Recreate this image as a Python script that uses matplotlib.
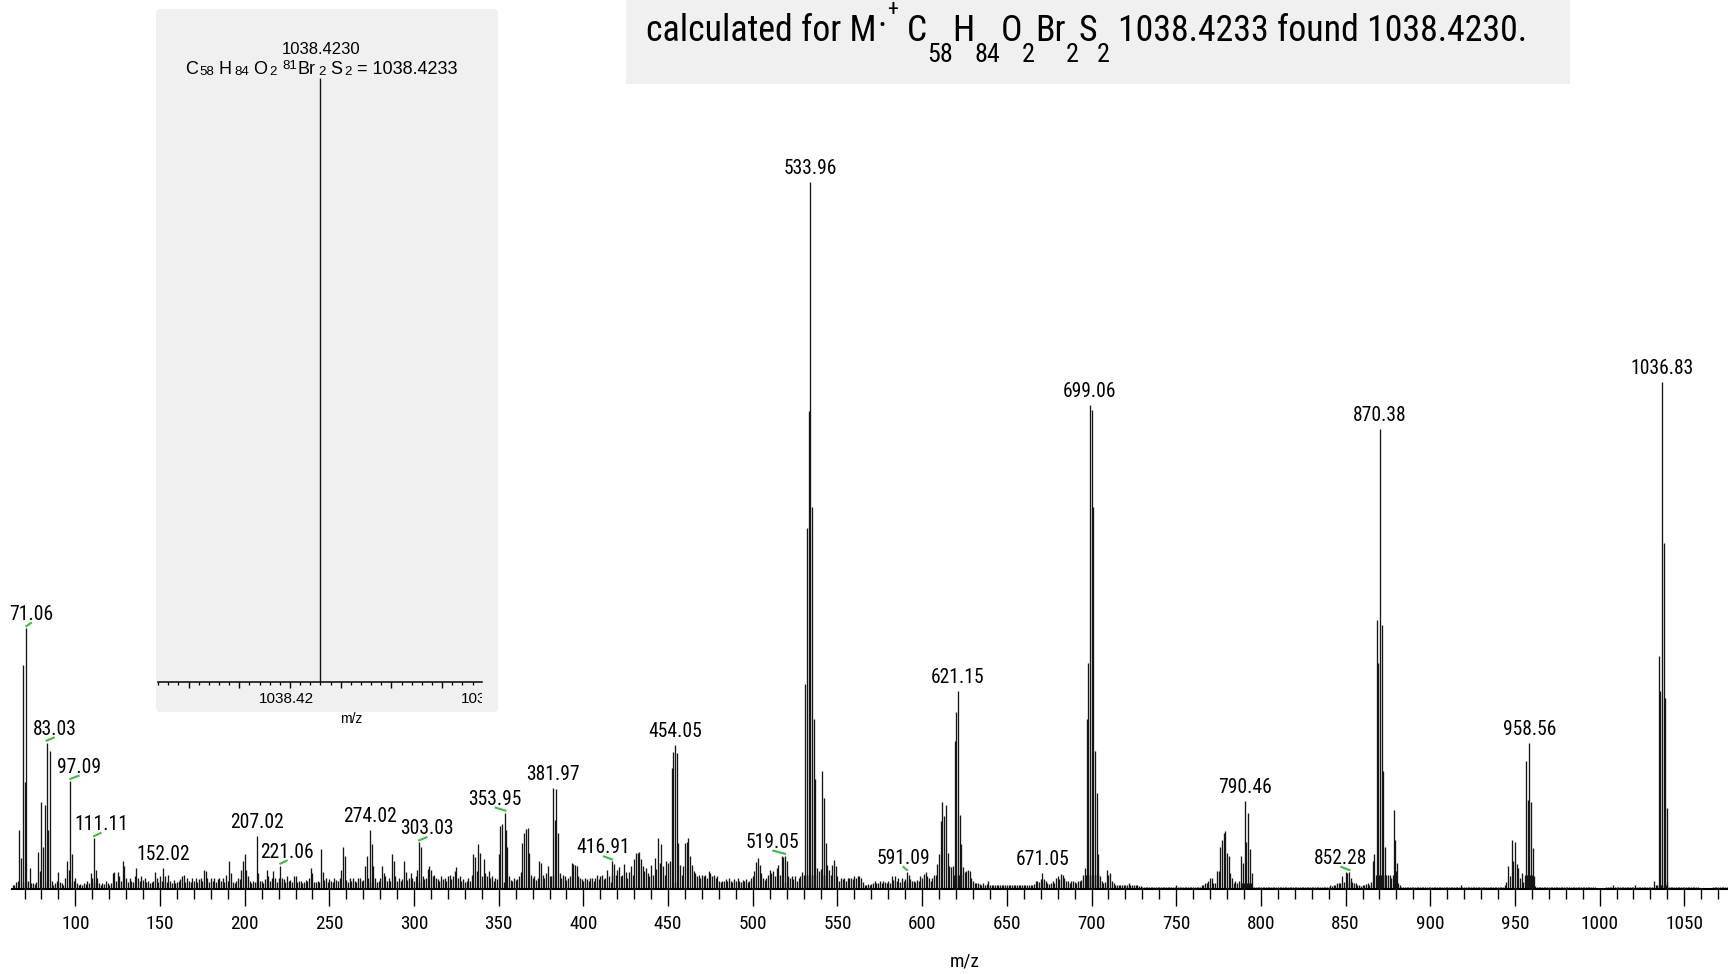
import matplotlib
matplotlib.use("Agg")
import matplotlib.pyplot as plt
import matplotlib.ticker as mticker
from matplotlib.patches import Rectangle, FancyBboxPatch
from matplotlib.lines import Line2D
from matplotlib.transforms import IdentityTransform, Bbox, TransformedBbox
from matplotlib.font_manager import FontProperties, fontManager
import numpy as np

# ---------------- data ----------------
noise_start = 63
noise_063_162 = [0.6, 0.5, 1.0, 1.2, 8.3, 4.4, 1.0, 15.2, 1.0, 1.1,
                 3.0, 0.8, 0.9, 0.7, 1.0, 5.3, 2.5, 12.3, 6.0, 11.9,
                 1.0, 8.4, 19.5, 1.1, 0.6, 0.8, 1.2, 2.4, 1.0, 0.8,
                 0.6, 1.5, 3.9, 2.7, 1.0, 4.9, 1.2, 1.6, 0.9, 0.6,
                 0.7, 0.6, 0.8, 0.7, 1.1, 0.9, 2.3, 1.6, 1.0, 2.7,
                 1.6, 0.9, 0.6, 0.8, 0.7, 1.2, 0.9, 0.6, 0.9, 2.2,
                 2.4, 1.1, 2.4, 1.8, 1.1, 3.9, 3.2, 1.6, 1.0, 1.6,
                 1.1, 1.0, 1.8, 3.0, 1.6, 1.1, 1.8, 1.3, 1.6, 1.0,
                 1.1, 0.8, 1.0, 1.2, 2.4, 1.6, 1.0, 1.8, 1.2, 1.0,
                 1.8, 1.0, 2.0, 1.2, 0.9, 1.3, 0.8, 1.0, 1.1, 1.4]
noise_163_262 = [1.8, 2.0, 1.0, 1.6, 1.2, 1.0, 1.5, 1.1, 1.6, 1.0,
                 1.4, 1.6, 1.2, 2.7, 2.5, 1.6, 1.0, 1.6, 1.2, 1.6,
                 1.0, 1.4, 1.6, 1.1, 1.5, 1.0, 2.0, 1.1, 3.9, 2.2,
                 1.0, 0.9, 1.2, 1.6, 1.4, 2.7, 3.9, 4.9, 2.7, 1.8,
                 1.2, 0.9, 1.1, 1.0, 1.0, 2.3, 1.2, 1.1, 0.9, 1.4,
                 2.7, 1.8, 1.2, 1.6, 2.5, 1.6, 1.0, 1.6, 1.0, 1.5,
                 1.4, 1.0, 1.8, 1.1, 1.3, 1.0, 1.8, 1.8, 1.0, 1.2,
                 1.1, 0.9, 1.0, 1.3, 1.1, 1.6, 3.0, 2.2, 1.0, 1.0,
                 1.2, 1.0, 5.7, 2.4, 1.3, 1.6, 1.0, 1.4, 1.2, 1.0,
                 1.5, 1.3, 1.1, 1.6, 2.7, 5.9, 4.7, 1.3, 1.0, 1.6]
noise_263_362 = [1.2, 1.6, 1.2, 1.0, 1.5, 1.6, 1.1, 1.3, 3.3, 4.6,
                 1.6, 1.0, 6.3, 3.2, 1.6, 1.0, 1.2, 1.6, 3.3, 2.3,
                 1.8, 1.2, 1.6, 1.1, 4.9, 3.9, 1.8, 1.2, 1.6, 1.1,
                 1.4, 3.9, 2.4, 1.3, 1.6, 2.3, 1.6, 1.2, 1.8, 2.7,
                 1.0, 6.0, 1.8, 1.4, 1.6, 2.8, 3.3, 2.7, 1.8, 2.0,
                 1.6, 1.4, 1.2, 1.8, 1.4, 1.6, 1.2, 1.8, 2.0, 1.4,
                 1.8, 2.5, 3.1, 1.6, 1.8, 1.2, 1.4, 1.0, 1.2, 1.6,
                 1.2, 2.0, 4.9, 4.5, 2.5, 6.3, 5.1, 1.9, 4.2, 2.3,
                 1.8, 2.5, 1.6, 1.8, 1.2, 1.6, 1.4, 5.0, 8.9, 9.2,
                 1.0, 8.4, 6.0, 1.8, 1.3, 1.2, 1.6, 1.3, 1.4, 1.8]
noise_363_462 = [2.4, 6.5, 7.9, 8.5, 8.6, 5.1, 2.0, 1.6, 1.8, 1.3,
                 1.6, 3.9, 3.7, 2.0, 1.6, 2.3, 3.2, 1.8, 1.8, 2.0,
                 9.8, 14.1, 7.9, 2.3, 1.6, 2.0, 1.8, 1.3, 1.5, 1.8,
                 3.7, 3.6, 3.4, 3.2, 1.9, 1.5, 1.4, 1.2, 1.5, 1.4,
                 1.2, 1.6, 1.5, 1.2, 1.6, 2.0, 1.4, 1.8, 2.0, 1.4,
                 1.6, 2.7, 1.8, 1.0, 2.0, 3.6, 2.0, 2.7, 3.1, 1.8,
                 2.0, 3.6, 2.4, 1.6, 2.4, 3.3, 2.0, 4.2, 5.1, 5.1,
                 5.3, 4.2, 3.3, 2.5, 3.0, 2.2, 1.8, 3.4, 2.0, 4.4,
                 2.8, 7.2, 3.7, 6.3, 3.2, 2.0, 3.9, 3.7, 3.9, 17.1,
                 19.4, 1.0, 19.3, 6.5, 3.4, 2.0, 3.2, 6.5, 6.7, 7.2]
noise_463_562 = [4.6, 3.4, 2.6, 2.3, 1.8, 2.0, 1.6, 2.0, 1.8, 2.0,
                 1.6, 2.5, 2.3, 1.8, 2.0, 1.6, 1.8, 1.2, 1.0, 1.2,
                 1.1, 1.4, 1.1, 1.6, 1.2, 1.0, 1.4, 1.2, 1.6, 1.1,
                 1.0, 1.3, 1.1, 1.4, 1.0, 1.2, 1.6, 1.8, 2.5, 3.8,
                 4.4, 3.4, 2.3, 1.6, 1.3, 1.6, 2.0, 2.7, 2.2, 2.5,
                 1.8, 3.0, 3.4, 2.0, 4.6, 4.5, 1.0, 3.9, 1.8, 1.6,
                 1.8, 1.4, 1.8, 1.2, 1.6, 1.8, 2.4, 2.0, 2.0, 2.0,
                 2.0, 2.0, 2.0, 2.0, 2.0, 3.0, 2.5, 2.8, 2.0, 2.0,
                 2.0, 3.4, 2.7, 2.0, 3.4, 4.1, 3.2, 1.8, 1.1, 1.6,
                 1.4, 1.6, 1.2, 1.6, 1.5, 1.6, 1.4, 1.8, 1.6, 1.8]
noise_563_662 = [1.8, 1.6, 1.0, 0.6, 0.6, 0.7, 0.6, 0.7, 0.8, 1.1,
                 0.8, 0.9, 1.2, 0.8, 1.1, 1.0, 0.8, 1.2, 0.9, 1.8,
                 1.3, 1.8, 1.1, 1.6, 1.0, 1.6, 1.2, 1.4, 1.0, 2.0,
                 1.4, 1.1, 1.2, 1.0, 1.3, 1.2, 1.8, 1.5, 2.1, 2.4,
                 1.8, 1.6, 1.2, 1.6, 2.0, 2.0, 3.5, 4.9, 9.6, 12.3,
                 10.3, 11.9, 5.1, 3.2, 3.1, 3.2, 2.0, 2.0, 2.0, 2.0,
                 2.0, 3.1, 2.4, 2.5, 2.7, 2.5, 1.6, 1.2, 0.8, 0.9,
                 0.8, 0.7, 0.6, 0.8, 0.6, 0.7, 1.1, 0.6, 0.5, 0.6,
                 0.5, 0.6, 0.5, 0.6, 0.5, 0.6, 0.5, 0.6, 0.5, 0.6,
                 0.5, 0.5, 0.6, 0.5, 0.6, 0.5, 0.6, 0.5, 0.6, 0.5]
noise_663_762 = [0.6, 0.5, 0.6, 0.7, 1.1, 1.1, 1.0, 1.4, 1.0, 1.4,
                 1.1, 0.8, 0.7, 0.9, 1.1, 0.8, 1.6, 1.8, 1.4, 2.1,
                 2.0, 1.6, 1.2, 1.1, 0.9, 1.1, 1.2, 1.0, 0.8, 1.1,
                 1.2, 1.3, 2.0, 3.0, 2.0, 2.0, 2.0, 2.0, 2.0, 2.0,
                 2.0, 2.0, 1.8, 1.1, 0.9, 1.0, 2.7, 2.0, 2.2, 1.2,
                 0.8, 0.5, 0.6, 0.5, 0.6, 0.5, 0.5, 0.6, 0.5, 0.8,
                 0.6, 0.5, 0.5, 0.6, 0.5, 0.4, 0.4, 0.3, 0.3, 0.3,
                 0.3, 0.3, 0.35, 0.3, 0.3, 0.3, 0.25, 0.3, 0.3, 0.3,
                 0.3, 0.3, 0.3, 0.3, 0.35, 0.3, 0.3, 0.6, 0.3, 0.3,
                 0.3, 0.3, 0.3, 0.25, 0.3, 0.3, 0.3, 0.3, 0.3, 0.3]
noise_763_862 = [0.3, 0.35, 0.6, 0.6, 0.85, 0.9, 1.1, 1.6, 1.6, 0.9,
                 0.8, 2.5, 2.5, 6.0, 7.0, 7.9, 8.2, 5.1, 4.7, 2.3,
                 1.6, 0.8, 1.2, 0.9, 1.2, 0.8, 0.8, 0.8, 0.8, 0.8,
                 0.8, 0.8, 0.4, 0.3, 0.3, 0.3, 0.3, 0.3, 0.3, 0.3,
                 0.3, 0.3, 0.3, 0.3, 0.25, 0.3, 0.3, 0.3, 0.3, 0.3,
                 0.3, 0.3, 0.3, 0.3, 0.3, 0.3, 0.3, 0.35, 0.3, 0.3,
                 0.3, 0.3, 0.3, 0.3, 0.3, 0.3, 0.3, 0.3, 0.3, 0.3,
                 0.3, 0.3, 0.3, 0.3, 0.3, 0.3, 0.3, 0.3, 0.6, 0.4,
                 0.6, 0.6, 0.9, 0.8, 0.9, 1.8, 1.0, 2.4, 2.3, 1.0,
                 1.6, 1.0, 0.9, 0.9, 0.6, 0.5, 0.4, 0.5, 0.6, 0.7]
noise_863_962 = [0.8, 0.6, 1.0, 3.9, 4.9, 2.0, 2.0, 2.0, 2.0, 2.0,
                 2.0, 2.0, 2.0, 2.0, 1.6, 2.0, 2.0, 2.5, 0.8, 0.5,
                 0.3, 0.3, 0.3, 0.3, 0.3, 0.3, 0.3, 0.3, 0.3, 0.3,
                 0.3, 0.3, 0.3, 0.25, 0.3, 0.3, 0.3, 0.3, 0.3, 0.3,
                 0.3, 0.3, 0.3, 0.3, 0.3, 0.3, 0.3, 0.3, 0.3, 0.3,
                 0.3, 0.3, 0.3, 0.3, 0.3, 0.6, 0.3, 0.3, 0.3, 0.3,
                 0.3, 0.3, 0.3, 0.3, 0.3, 0.3, 0.3, 0.3, 0.3, 0.3,
                 0.3, 0.3, 0.3, 0.3, 0.3, 0.3, 0.3, 0.3, 0.3, 0.3,
                 0.35, 0.6, 1.0, 3.3, 1.8, 7.0, 3.9, 6.6, 3.6, 3.0,
                 1.6, 2.2, 1.0, 2.0, 2.0, 2.0, 2.0, 2.0, 1.9, 0.4]
noise_963_1075 = [0.3, 0.3, 0.3, 0.3, 0.3, 0.3, 0.3, 0.3, 0.3, 0.3,
                  0.3, 0.3, 0.3, 0.3, 0.3, 0.3, 0.3, 0.3, 0.3, 0.3,
                  0.3, 0.3, 0.3, 0.3, 0.3, 0.3, 0.3, 0.3, 0.3, 0.3,
                  0.3, 0.3, 0.3, 0.3, 0.3, 0.0, 0.0, 0.0, 0.0, 0.0,
                  0.0, 0.3, 0.3, 0.3, 0.3, 0.6, 0.3, 0.3, 0.3, 0.3,
                  0.3, 0.3, 0.3, 0.3, 0.3, 0.3, 0.3, 0.3, 0.6, 0.3,
                  0.3, 0.3, 0.3, 0.3, 0.3, 0.3, 0.3, 0.3, 0.3, 1.2,
                  0.5, 0.5, 0.5, 0.5, 0.5, 0.5, 0.5, 1.0, 0.3, 0.3,
                  0.3, 0.3, 0.3, 0.3, 0.3, 0.3, 0.3, 0.3, 0.3, 0.3,
                  0.3, 0.3, 0.3, 0.3, 0.3, 0.3, 0.0, 0.0, 0.0, 0.0,
                  0.0, 0.0, 0.0, 0.0, 0.3, 0.3, 0.3, 0.3, 0.3, 0.3,
                  0.3, 0.3, 0.3]

peak_mz = [69.07, 71.06, 83.03, 97.09, 111.11, 152.02, 207.02, 221.06,
           274.02, 303.03, 353.95, 381.97, 416.91, 454.05, 519.05,
           530.96, 531.96, 532.96, 533.96, 534.96, 535.96, 536.96,
           540.96, 541.96, 542.96, 591.09,
           619.15, 620.15, 621.15, 622.15, 623.15, 671.05,
           697.06, 698.06, 699.06, 700.06, 701.06, 702.06, 703.06, 704.06,
           788.46, 789.46, 790.46, 791.46, 792.46, 793.46, 794.46, 852.28,
           868.38, 869.38, 870.38, 871.38, 872.38, 873.38, 878.38, 879.38, 880.38,
           956.56, 957.56, 958.56, 959.56, 960.56,
           1034.83, 1035.83, 1036.83, 1037.83, 1038.83, 1039.83]
peak_int = [31.7, 36.9, 20.7, 15.3, 7.2, 3.0, 7.5, 3.3,
            8.4, 6.6, 10.8, 14.3, 3.9, 20.4, 4.7,
            29.0, 51.0, 67.6, 100.0, 54.0, 24.0, 15.5,
            16.7, 12.9, 6.5, 2.4,
            20.9, 25.0, 28.0, 10.5, 6.3, 2.2,
            24.0, 32.0, 68.4, 67.8, 54.0, 19.5, 13.6, 4.9,
            4.6, 3.7, 12.5, 6.7, 10.8, 5.6, 2.2, 2.4,
            38.0, 32.0, 65.1, 37.4, 16.7, 6.0, 11.2, 7.0, 3.7,
            18.1, 12.6, 20.7, 12.3, 5.8,
            33.0, 28.0, 71.7, 49.0, 27.0, 11.5]

label_mz = [71.06, 83.03, 97.09, 111.11, 152.02, 207.02, 221.06, 274.02,
            303.03, 353.95, 381.97, 416.91, 454.05, 519.05, 533.96, 591.09,
            621.15, 671.05, 699.06, 790.46, 852.28, 870.38, 958.56, 1036.83]

major_ticks = [100, 150, 200, 250, 300, 350, 400, 450, 500, 550,
               600, 650, 700, 750, 800, 850, 900, 950, 1000, 1050]

inset_found = 1038.4230
inset_calc_text = "1038.4233"
inset_tick_labels = [1038.42, 1038.44]

# ---------------- style / layout ----------------
W, H, DPI = 1728, 974, 100
BAR = "#151515"
PANEL = "#f0f0f0"
GREEN = "#3dbb47"
leader_dx = {71.06: 5, 83.03: 8, 97.09: 9, 111.11: 7, 221.06: 7, 303.03: 8,
             353.95: -11, 416.91: -9, 519.05: -13, 591.09: -4, 852.28: -9}


def find_narrow():
    prefs = ["LiberationSansNarrow-Regular", "ArialNarrow", "Arial Narrow",
             "RobotoCondensed-Regular", "Roboto Condensed", "OpenSans_Condensed-Regular",
             "OpenSansCondensed", "NotoSans-CondensedRegular", "NotoSans-Condensed",
             "DejaVuSansCondensed.ttf", "DejaVuSansCondensed"]
    files = [f.fname for f in fontManager.ttflist]
    for p in prefs:
        for fn in files:
            base = fn.split("/")[-1]
            if p.replace(" ", "") in base.replace(" ", "") and not any(
                    k in base for k in ["Bold", "Oblique", "Italic", "Light", "Thin",
                                        "Medium", "Black", "Semi", "Extra"]):
                return FontProperties(fname=fn), True
    for f in fontManager.ttflist:
        if f.stretch in ("condensed", "semi-condensed", "extra-condensed") and \
                f.weight in (400, "normal", "regular") and f.style == "normal":
            return FontProperties(fname=f.fname), True
    return FontProperties(family=["Liberation Sans", "DejaVu Sans"]), False


NARROW_BASE, HAS_NARROW = find_narrow()
ARIAL_BASE = FontProperties(family=["Liberation Sans", "DejaVu Sans"])


def fp(base, size):
    p = base.copy()
    p.set_size(size)
    return p


fig = plt.figure(figsize=(W / DPI, H / DPI), dpi=DPI)
fig.patch.set_facecolor("white")
renderer = fig.canvas.get_renderer()


def fx(px):
    return px / W


def fy(py):
    return 1 - py / H


def text_width(s, prop):
    t = fig.text(0, 0, s, fontproperties=prop)
    w = t.get_window_extent(renderer=renderer).width
    t.remove()
    return w


def fit_size(s, base, target_px, height_size):
    """font size between the one giving the reference width and the one
    giving the reference glyph height"""
    w10 = text_width(s, fp(base, 10))
    sw = 10 * target_px / w10
    return 0.5 * (sw + height_size)


LABEL_SIZE = fit_size("533.96", NARROW_BASE, 51, 14.6)
TICK_SIZE = fit_size("1000", NARROW_BASE, 37, 14.0)

# background panels (in pixel coords)
fig.add_artist(FancyBboxPatch((156, H - 712), 342, 703,
                              boxstyle="round,pad=0,rounding_size=4",
                              transform=IdentityTransform(), fc=PANEL, ec="none", zorder=-5))
fig.add_artist(Rectangle((626, H - 84), 944, 84, transform=IdentityTransform(),
                         fc=PANEL, ec="none", zorder=-5))

# ---------------- main spectrum ----------------
ax = fig.add_axes([fx(12), fy(889), (W - 12) / W, 889 / H])
ax.set_facecolor("none")
ax.set_xlim(62.6, 1075.8)
ax.set_ylim(0, 100 * 889 / 707)

noise_all = (noise_063_162 + noise_163_262 + noise_263_362 + noise_363_462 +
             noise_463_562 + noise_563_662 + noise_663_762 + noise_763_862 +
             noise_863_962 + noise_963_1075)
noise_mz = np.arange(noise_start, noise_start + len(noise_all))
noise_int = np.array(noise_all)
keep = noise_int > 0
ax.vlines(noise_mz[keep], 0, noise_int[keep], color=BAR, lw=0.95)
ax.vlines(peak_mz, 0, peak_int, color=BAR, lw=0.95)

for s in ["top", "left", "right"]:
    ax.spines[s].set_visible(False)
ax.spines["bottom"].set_linewidth(1.5)
ax.set_yticks([])
ax.xaxis.set_major_locator(mticker.FixedLocator(major_ticks))
ax.xaxis.set_minor_locator(mticker.MultipleLocator(10))
ax.tick_params(axis="x", which="major", direction="out", length=12, width=1.0, pad=7)
ax.tick_params(axis="x", which="minor", direction="out", length=7, width=1.0)
for lab in ax.get_xticklabels():
    lab.set_fontproperties(fp(NARROW_BASE, TICK_SIZE))

fig.text(fx(965), fy(962), "m/z", ha="center", va="center",
         fontproperties=fp(NARROW_BASE, TICK_SIZE))

# peak labels
pk = dict(zip(peak_mz, peak_int))
for m in label_mz:
    h = pk[m]
    dx = leader_dx.get(m, 0)
    ax.annotate(f"{m:.2f}", xy=(m, h), xytext=(dx, 8), textcoords="offset pixels",
                ha="center", va="baseline", fontproperties=fp(NARROW_BASE, LABEL_SIZE))
    if m in leader_dx:
        px, py = ax.transData.transform((m, h))
        fig.add_artist(Line2D([px, px + dx * 0.9], [py + 2, py + 5],
                              transform=IdentityTransform(), color=GREEN, lw=1.5))

# ---------------- inset ----------------
scale = 10140.0  # px per m/z unit
x_tick_px = 290.0
ix0, ix1 = 158, 482
axi = fig.add_axes([fx(ix0), fy(682), (ix1 - ix0) / W, (682 - 78) / H])
axi.set_facecolor("none")
axi.set_xlim(1038.42 - (x_tick_px - ix0) / scale, 1038.42 + (ix1 - x_tick_px) / scale)
axi.set_ylim(0, 1)
axi.vlines([inset_found], 0, 1, color=BAR, lw=1.0)
for s in ["top", "left", "right"]:
    axi.spines[s].set_visible(False)
axi.spines["bottom"].set_linewidth(1.1)
axi.set_yticks([])
axi.xaxis.set_major_locator(mticker.MultipleLocator(0.005))
axi.xaxis.set_minor_locator(mticker.MultipleLocator(0.001))
axi.xaxis.set_major_formatter(mticker.NullFormatter())
axi.tick_params(axis="x", which="major", direction="out", length=4.5, width=1.0)
axi.tick_params(axis="x", which="minor", direction="out", length=2.2, width=0.9)
clip = TransformedBbox(Bbox([[0, 0], [ix1, H]]), IdentityTransform())
for v in inset_tick_labels:
    lab = axi.annotate(f"{v:.2f}", xy=(v, 0), xycoords=("data", "axes fraction"),
                       xytext=(-4, -10), textcoords="offset pixels", ha="center", va="top",
                       fontproperties=fp(ARIAL_BASE, 11), annotation_clip=False)
    lab.set_clip_on(True)
    lab.set_clip_box(clip)
fig.text(fx(351), fy(719), "m/z", ha="center", va="center", fontproperties=fp(ARIAL_BASE, 10))

fig.text(fx(321), fy(50), f"{inset_found:.4f}", ha="center", va="center",
         fontproperties=fp(ARIAL_BASE, 12))


def chain(pieces, x0, ybase, k=1.0):
    texts = []
    x = x0
    for s, base, size, dy, gap in pieces:
        x += gap * k
        t = fig.text(fx(x), fy(ybase + dy * k), s, fontproperties=fp(base, size * k),
                     ha="left", va="baseline")
        bb = t.get_window_extent(renderer=renderer)
        texts.append(t)
        x = bb.x1
    return texts, x


def fitted_chain(pieces, x0, ybase, target_w, center=False):
    texts, xend = chain(pieces, 0, ybase)
    k = target_w / xend
    for t in texts:
        t.remove()
    texts, xend = chain(pieces, 0, ybase, k)
    shift = x0 - (xend / 2 if center else 0)
    for t in texts:
        x, y = t.get_position()
        t.set_x(x + shift / W)
    return texts


A, B, S = ARIAL_BASE, 12, 8.8
formula = [("C", A, B, 0, 0), ("58", A, S, 1, 2),
           ("H", A, B, 0, 4), ("84", A, S, 1, 2),
           ("O", A, B, 0, 4), ("2", A, S, 1, 2),
           ("81", A, S, -5, 5), ("Br", A, B, 0, 1), ("2", A, S, 1, 2),
           ("S", A, B, 0, 4), ("2", A, S, 1, 2),
           ("= " + inset_calc_text, A, B, 0, 5)]
fitted_chain(formula, 321, 74, 272, center=True)

# ---------------- title ----------------
N, T, Ts = NARROW_BASE, 26, 19
title = [("calculated for M", N, T, 0, 0), (".", N, T, -15, 1),
         ("+", N, 16, -25, 0),
         ("C", N, T, 0, 9), ("58", N, Ts, 21, 0),
         ("H", N, T, 0, 0), ("84", N, Ts, 21, 0),
         ("O", N, T, 0, 0), ("2", N, Ts, 21, 0),
         ("Br", N, T, 0, 0), ("2", N, Ts, 21, 0),
         ("S", N, T, 0, 0), ("2", N, Ts, 21, 0),
         ("1038.4233 found 1038.4230.", N, T, 0, 8)]
fitted_chain(title, 646, 41, 880)

fig.savefig("out.png", dpi=DPI)
